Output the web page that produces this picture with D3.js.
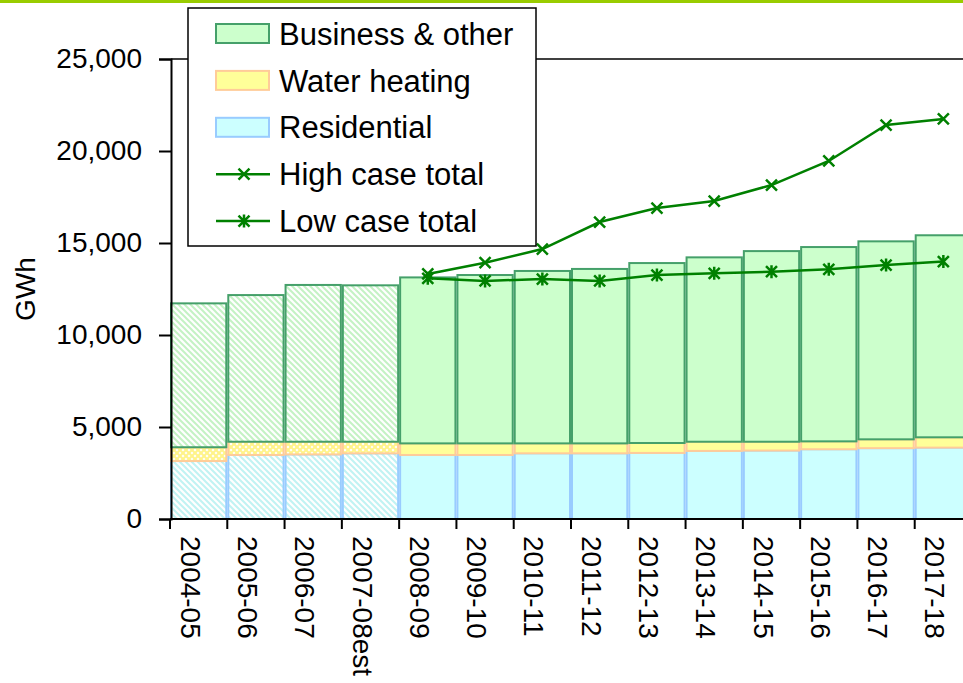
<!DOCTYPE html>
<html>
<head>
<meta charset="utf-8">
<script src="https://cdn.jsdelivr.net/npm/d3@7/dist/d3.min.js"></script>
<style>
  html, body { margin: 0; padding: 0; background: #ffffff; }
  svg { display: block; font-family: "Liberation Sans", Arial, sans-serif; }
</style>
</head>
<body>
<script>
// ---------- data ----------
const categories = ["2004-05","2005-06","2006-07","2007-08est","2008-09","2009-10","2010-11",
                    "2011-12","2012-13","2013-14","2014-15","2015-16","2016-17","2017-18"];
const historical = [true, true, true, true, false, false, false, false, false, false, false, false, false, false];
const residential  = [3150, 3480, 3510, 3570, 3480, 3480, 3570, 3570, 3590, 3700, 3720, 3790, 3850, 3880];
const waterHeating = [ 750,  720,  690,  630,  630,  630,  540,  540,  540,  500,  480,  430,  480,  560];
const business     = [7820, 7970, 8520, 8500, 9020, 9150, 9370, 9480, 9780, 10020, 10360, 10560, 10760, 10980];
const highCase = [null, null, null, null, 13320, 13930, 14670, 16140, 16900, 17280, 18150, 19460, 21410, 21740];
const lowCase  = [null, null, null, null, 13080, 12940, 13040, 12940, 13260, 13350, 13440, 13570, 13800, 13990];
const yTicks = [0, 5000, 10000, 15000, 20000, 25000];
const seriesNames = ["Business & other", "Water heating", "Residential", "High case total", "Low case total"];

// ---------- setup ----------
const W = 963, H = 683;
const svg = d3.select("body").append("svg").attr("width", W).attr("height", H);

const x = d3.scaleBand().domain(categories).range([170, 972]).padding(0);
const y = d3.scaleLinear().domain([0, 25000]).range([519, 59]);

const defs = svg.append("defs");
function stripe(id, color, cross) {
  const p = defs.append("pattern").attr("id", id).attr("patternUnits", "userSpaceOnUse")
    .attr("width", 6).attr("height", 6);
  p.append("rect").attr("width", 6).attr("height", 6).attr("fill", "#ffffff");
  p.append("path").attr("d", "M-1,-1L7,7M-1,5L1,7M5,-1L7,1")
    .attr("stroke", color).attr("stroke-width", 2);
  if (cross) {
    p.append("path").attr("d", "M-1,7L7,-1M-1,1L1,-1M5,7L7,5")
      .attr("stroke", color).attr("stroke-width", 2);
  }
}
stripe("hatchBiz", "#c4f2c4", false);
stripe("hatchWat", "#fff48a", true);
stripe("hatchRes", "#c0f3f3", false);

// top decorative rule
svg.append("rect").attr("x", 0).attr("y", 0).attr("width", W).attr("height", 3).attr("fill", "#99cc00");

// plot top border
svg.append("line").attr("x1", 171).attr("x2", W).attr("y1", 59).attr("y2", 59)
  .attr("stroke", "#000").attr("stroke-width", 1.5);

// ---------- stacked bars ----------
const rows = categories.map((c, i) => ({
  cat: c, hist: historical[i],
  res: residential[i], wat: waterHeating[i], biz: business[i]
}));
const keys = ["res", "wat", "biz"];
const stack = d3.stack().keys(keys)(rows);
const fills = { res: "#ccffff", wat: "#ffff99", biz: "#ccffcc" };
const hatches = { res: "url(#hatchRes)", wat: "url(#hatchWat)", biz: "url(#hatchBiz)" };
const strokes = { res: "#99ccff", wat: "#ffcc99", biz: "#45a06a" };

const barsG = svg.append("g");
stack.forEach(layer => {
  barsG.append("g").selectAll("rect").data(layer).join("rect")
    .attr("x", d => x(d.data.cat) + 1)
    .attr("width", x.bandwidth() - 2)
    .attr("y", d => y(d[1]))
    .attr("height", d => y(d[0]) - y(d[1]))
    .attr("fill", d => d.data.hist ? hatches[layer.key] : fills[layer.key])
    .attr("stroke", strokes[layer.key])
    .attr("stroke-width", 2);
});

// ---------- lines ----------
const lineColor = "#008000";
const cx = c => x(c) + x.bandwidth() / 2;
function drawLine(vals, star) {
  const pts = categories.map((c, i) => ({ c, v: vals[i] })).filter(d => d.v != null);
  const line = d3.line().x(d => cx(d.c)).y(d => y(d.v));
  svg.append("path").datum(pts).attr("d", line).attr("fill", "none")
    .attr("stroke", lineColor).attr("stroke-width", 2.5);
  const s = 5.5;
  svg.append("g").selectAll("path").data(pts).join("path")
    .attr("transform", d => `translate(${cx(d.c)},${y(d.v)})`)
    .attr("d", `M${-s},${-s}L${s},${s}M${-s},${s}L${s},${-s}` + (star ? `M0,${-s - 1}L0,${s + 1}` : ""))
    .attr("stroke", lineColor).attr("stroke-width", 2.5).attr("fill", "none");
}
drawLine(highCase, false);
drawLine(lowCase, true);

// ---------- axes ----------
const yAxis = d3.axisLeft(y).tickValues(yTicks).tickSize(12).tickPadding(17)
  .tickFormat(d3.format(","));
const gy = svg.append("g").attr("transform", "translate(171,0)").call(yAxis);
gy.select(".domain").attr("stroke", "#000").attr("stroke-width", 2);
gy.selectAll(".tick line").attr("stroke", "#000").attr("stroke-width", 2);
gy.selectAll(".tick text").attr("font-size", 28).attr("fill", "#000")
  .attr("font-family", "Liberation Sans, Arial, sans-serif");

// x axis line
svg.append("line").attr("x1", 170).attr("x2", W).attr("y1", 519).attr("y2", 519)
  .attr("stroke", "#000").attr("stroke-width", 2);
// x ticks at category boundaries
const bounds = categories.map(c => x(c));
svg.append("g").selectAll("line").data(bounds).join("line")
  .attr("x1", d => d).attr("x2", d => d).attr("y1", 519).attr("y2", 529)
  .attr("stroke", "#000").attr("stroke-width", 2);
// x labels
svg.append("g").selectAll("text").data(categories).join("text")
  .attr("transform", c => `translate(${cx(c) - 18},536) rotate(90)`)
  .attr("font-size", 28).attr("fill", "#000").attr("text-anchor", "start")
  .text(c => c);

// y title
svg.append("text").attr("transform", "translate(35,289) rotate(-90)")
  .attr("text-anchor", "middle").attr("font-size", 28).attr("fill", "#000").text("GWh");

// ---------- legend ----------
const lg = svg.append("g");
lg.append("rect").attr("x", 188).attr("y", 8).attr("width", 348).attr("height", 238)
  .attr("fill", "#fff").attr("stroke", "#000").attr("stroke-width", 1.5);
const rowY = i => 33.5 + i * 46.9;
const swatchKeys = ["biz", "wat", "res"];
swatchKeys.forEach((k, i) => {
  lg.append("rect").attr("x", 216).attr("y", rowY(i) - 9.5).attr("width", 53).attr("height", 19)
    .attr("fill", fills[k]).attr("stroke", strokes[k]).attr("stroke-width", 2);
});
[false, true].forEach((star, j) => {
  const yy = rowY(3 + j), s = 5.5;
  lg.append("line").attr("x1", 216).attr("x2", 270).attr("y1", yy).attr("y2", yy)
    .attr("stroke", lineColor).attr("stroke-width", 2.5);
  lg.append("path").attr("transform", `translate(244,${yy})`)
    .attr("d", `M${-s},${-s}L${s},${s}M${-s},${s}L${s},${-s}` + (star ? `M0,${-s - 1}L0,${s + 1}` : ""))
    .attr("stroke", lineColor).attr("stroke-width", 2.5).attr("fill", "none");
});
seriesNames.forEach((n, i) => {
  lg.append("text").attr("x", 279).attr("y", rowY(i)).attr("dy", "0.36em")
    .attr("font-size", 31).attr("fill", "#000").text(n);
});
</script>
</body>
</html>
